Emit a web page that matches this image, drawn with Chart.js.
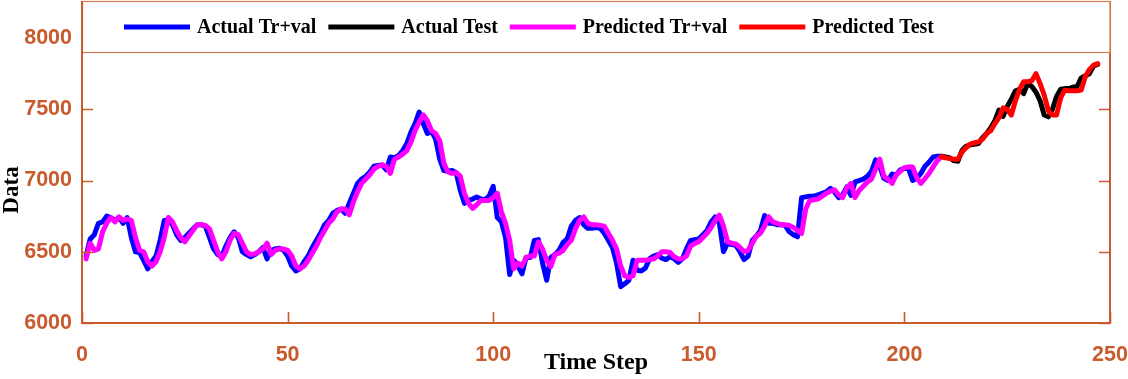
<!DOCTYPE html>
<html>
<head>
<meta charset="utf-8">
<title>Actual vs Predicted</title>
<script src="https://cdn.jsdelivr.net/npm/chart.js@4.4.1/dist/chart.umd.min.js"></script>
<style>
    body { margin: 0; background: #ffffff; }
    #wrap { width: 1128px; height: 379px; }
</style>
</head>
<body>
<div id="wrap"><canvas id="chartjs-0"></canvas></div>
<script>
// values, one per time step
var trainStart = 1;     // first time step of the Tr+val part
var testStart = 209;    // first time step of the Test part

var actualTrVal = [
    6470, 6590, 6620, 6700, 6710, 6750, 6740, 6720, 6740, 6700,
    6740, 6600, 6500, 6495, 6440, 6380, 6430, 6470, 6580, 6720,
    6725, 6690, 6620, 6580, 6600, 6630, 6660, 6690, 6690, 6680,
    6600, 6520, 6480, 6470, 6540, 6600, 6640, 6600, 6500, 6480,
    6465, 6480, 6500, 6530, 6450, 6510, 6520, 6525, 6510, 6470,
    6400, 6365, 6380, 6430, 6470, 6530, 6580, 6630, 6690, 6720,
    6770, 6790, 6800, 6770, 6840, 6910, 6980, 7010, 7030, 7060,
    7100, 7105, 7110, 7075, 7165, 7160, 7175, 7210, 7260, 7340,
    7400, 7480, 7400, 7330, 7345, 7290, 7150, 7070, 7065, 7070,
    7055, 6930, 6840, 6860, 6870, 6885, 6870, 6865, 6890, 6960,
    6740, 6710, 6600, 6340, 6440, 6400, 6345, 6460, 6460, 6580,
    6585, 6420, 6300, 6460, 6480, 6510, 6565, 6590, 6680, 6720,
    6740, 6690, 6665, 6665, 6670, 6665, 6630, 6580, 6530, 6420,
    6255, 6275, 6300, 6440, 6370, 6365, 6385, 6450, 6470, 6480,
    6455, 6445, 6465, 6450, 6425, 6450, 6520, 6580, 6585, 6590,
    6620, 6650, 6710, 6745, 6700, 6500, 6560, 6550, 6545, 6500,
    6445, 6470, 6580, 6610, 6650, 6755, 6700, 6700, 6690, 6690,
    6685, 6640, 6620, 6605, 6880, 6885, 6890, 6890, 6900, 6910,
    6920, 6945, 6920, 6880, 6900, 6955, 6895, 6990, 7000, 7010,
    7030, 7065, 7145, 7100, 7015, 7000, 7045, 7040, 7075, 7085,
    7085, 7000, 7015, 7050, 7100, 7130, 7165, 7170, 7170
];

var predictedTrVal = [
    6450, 6560, 6510, 6520, 6640, 6700, 6740, 6710, 6745, 6720,
    6730, 6720, 6600, 6510, 6500, 6430, 6400, 6430, 6500, 6600,
    6740, 6710, 6650, 6600, 6570, 6610, 6650, 6690, 6690, 6685,
    6660, 6580, 6500, 6450, 6500, 6580, 6630, 6620, 6560, 6500,
    6480, 6485, 6500, 6520, 6560, 6480, 6510, 6520, 6520, 6510,
    6470, 6400, 6380, 6400, 6440, 6490, 6540, 6600, 6650, 6700,
    6730, 6780, 6800, 6800, 6760, 6850, 6920, 6980, 7010, 7040,
    7080, 7100, 7110, 7100, 7050, 7150, 7165, 7185, 7210, 7270,
    7350, 7410, 7460, 7420, 7350, 7330, 7280, 7120, 7060, 7050,
    7055, 7030, 6910, 6840, 6805, 6830, 6860, 6860, 6860, 6880,
    6910, 6780, 6700, 6580, 6380, 6420, 6400, 6460, 6470, 6470,
    6570, 6520, 6440, 6395, 6480, 6490, 6510, 6550, 6580, 6660,
    6720, 6745, 6700, 6690, 6690, 6685, 6680, 6630, 6580, 6520,
    6400, 6330, 6320, 6330, 6440, 6440, 6440, 6445, 6450, 6470,
    6500, 6500, 6495, 6465, 6450, 6450, 6470, 6540, 6558, 6570,
    6600, 6630, 6670, 6720, 6757, 6680, 6570, 6560, 6555, 6530,
    6500, 6510, 6560, 6610, 6630, 6680, 6746, 6710, 6700, 6690,
    6690, 6685, 6670, 6650, 6628, 6800, 6860, 6865, 6870, 6890,
    6910, 6925, 6935, 6900, 6880, 6950, 6980, 6880, 6930, 6960,
    6990, 7010, 7080, 7150, 7030, 7010, 6980, 7040, 7065, 7090,
    7096, 7095, 7020, 6980, 7014, 7050, 7096, 7140, 7167
];

var actualTest = [
    7170, 7165, 7160, 7140, 7135, 7210, 7240, 7250, 7255, 7260,
    7300, 7330, 7370, 7420, 7495, 7450, 7520, 7570, 7630, 7640,
    7610, 7680, 7660, 7620, 7560, 7460, 7447, 7500, 7590, 7640,
    7645, 7645, 7655, 7660, 7720, 7735, 7750, 7805, 7815
];

var predictedTest = [
    7167, 7160, 7155, 7150, 7150, 7200, 7230, 7255, 7265, 7270,
    7290, 7330, 7350, 7400, 7440, 7510, 7500, 7460, 7560, 7640,
    7693, 7693, 7700, 7750, 7680, 7600, 7490, 7460, 7460, 7580,
    7634, 7630, 7630, 7630, 7635, 7730, 7780, 7810, 7820
];

var xTicks = [0, 50, 100, 150, 200, 250];
var yTicks = [6000, 6500, 7000, 7500, 8000];

var frameColor = "#c95b2c";
var boxColor = "#d47b52";

// turn a list of values into {x, y} points starting at a given step
function toPoints(values, start) {
    var pts = [];
    for (var i = 0; i < values.length; i++) {
        pts.push({ x: start + i, y: values[i] });
    }
    return pts;
}

function lineSet(label, values, start, color, order) {
    return {
        label: label,
        data: toPoints(values, start),
        borderColor: color,
        backgroundColor: color,
        borderWidth: 5,
        borderCapStyle: "round",
        borderJoinStyle: "round",
        pointRadius: 0,
        tension: 0,
        fill: false,
        order: order
    };
}

/* box, inward ticks, legend and y title, drawn on top like the original */
var framePlugin = {
    id: "frame",
    afterDraw: function (chart) {
        var ctx = chart.ctx;
        var area = chart.chartArea;
        var xs = chart.scales.x;
        var ys = chart.scales.y;
        ctx.save();

        ctx.strokeStyle = frameColor;
        ctx.lineWidth = 2;
        ctx.beginPath();
        ctx.moveTo(area.left, area.top);
        ctx.lineTo(area.left, area.bottom);
        ctx.lineTo(area.right, area.bottom);
        ctx.lineTo(area.right, area.top);
        ctx.stroke();

        ctx.lineWidth = 1.6;
        ctx.beginPath();
        xTicks.forEach(function (v) {
            var px = Math.round(xs.getPixelForValue(v)) + 0.5;
            ctx.moveTo(px, area.bottom);
            ctx.lineTo(px, area.bottom - 11);
        });
        yTicks.forEach(function (v) {
            var py = Math.round(ys.getPixelForValue(v)) + 0.5;
            ctx.moveTo(area.left, py);
            ctx.lineTo(area.left + 11, py);
            ctx.moveTo(area.right, py);
            ctx.lineTo(area.right - 11, py);
        });
        ctx.stroke();

        // legend box across the top of the axes
        var boxTop = area.top + 0.5;
        var boxH = 51;
        ctx.fillStyle = "#ffffff";
        ctx.fillRect(area.left, boxTop, area.right - area.left, boxH);
        ctx.strokeStyle = boxColor;
        ctx.lineWidth = 1.2;
        ctx.strokeRect(area.left + 0.5, boxTop, area.right - area.left - 0.5, boxH);
        ctx.strokeStyle = frameColor;
        ctx.lineWidth = 2;
        ctx.beginPath();
        ctx.moveTo(area.left, area.top);
        ctx.lineTo(area.left, area.bottom);
        ctx.stroke();

        var items = [0, 1, 2, 3];
        var legendX = 124;
        var legendY = 27;
        ctx.font = "bold 20px 'Liberation Serif', 'Times New Roman', serif";
        ctx.textBaseline = "middle";
        ctx.textAlign = "left";
        items.forEach(function (i) {
            var ds = chart.data.datasets[i];
            ctx.strokeStyle = ds.borderColor;
            ctx.lineWidth = 5;
            ctx.beginPath();
            ctx.moveTo(legendX, legendY);
            ctx.lineTo(legendX + 66, legendY);
            ctx.stroke();
            ctx.fillStyle = "#000000";
            ctx.fillText(ds.label, legendX + 73, legendY + 1);
            legendX += 73 + ctx.measureText(ds.label).width + 12;
        });

        // y axis title
        ctx.save();
        ctx.translate(12, 190);
        ctx.rotate(-Math.PI / 2);
        ctx.font = "bold 23px 'Liberation Serif', 'Times New Roman', serif";
        ctx.textAlign = "center";
        ctx.textBaseline = "middle";
        ctx.fillStyle = "#000000";
        ctx.fillText("Data", 0, 0);
        ctx.restore();

        ctx.restore();
    }
};

var tickFont = { family: "'Liberation Sans', Arial, sans-serif", size: 21.5, weight: "bold" };

function plainLabel(value) {
    return String(value);
}

var ctx = document.getElementById("chartjs-0");

var myChart = new Chart(ctx, {
    type: "line",
    data: {
        datasets: [
            lineSet("Actual Tr+val", actualTrVal, trainStart, "#0000ff", 4),
            lineSet("Actual Test", actualTest, testStart, "#000000", 3),
            lineSet("Predicted Tr+val", predictedTrVal, trainStart, "#ff00ff", 2),
            lineSet("Predicted Test", predictedTest, testStart, "#ff0000", 1)
        ]
    },
    options: {
        responsive: true,
        maintainAspectRatio: false,
        animation: false,
        layout: { padding: { left: 0, top: 1, right: 18, bottom: 0 } },
        plugins: {
            legend: { display: false },
            tooltip: { enabled: false }
        },
        scales: {
            x: {
                type: "linear",
                min: 0,
                max: 250,
                afterBuildTicks: function (scale) {
                    scale.ticks = xTicks.map(function (v) { return { value: v }; });
                },
                afterFit: function (scale) {
                    scale.height = 56;
                    scale.paddingLeft = 0;
                    scale.paddingRight = 0;
                },
                grid: { display: false, drawTicks: false },
                border: { display: false },
                ticks: {
                    autoSkip: false,
                    maxRotation: 0,
                    padding: 19,
                    color: frameColor,
                    font: tickFont,
                    callback: plainLabel
                },
                title: {
                    display: true,
                    text: "Time Step",
                    color: "#000000",
                    font: { family: "'Liberation Serif', 'Times New Roman', serif", size: 24, weight: "bold", lineHeight: 1 },
                    padding: { top: 0, bottom: 4 }
                }
            },
            y: {
                min: 6000,
                max: 8260,
                afterBuildTicks: function (scale) {
                    scale.ticks = yTicks.map(function (v) { return { value: v }; });
                },
                afterFit: function (scale) {
                    scale.width = 82;
                    scale.paddingTop = 0;
                    scale.paddingBottom = 0;
                },
                grid: { display: false, drawTicks: false },
                border: { display: false },
                ticks: {
                    padding: 10,
                    color: frameColor,
                    font: tickFont,
                    callback: plainLabel
                }
            }
        }
    },
    plugins: [framePlugin]
});
</script>
</body>
</html>
